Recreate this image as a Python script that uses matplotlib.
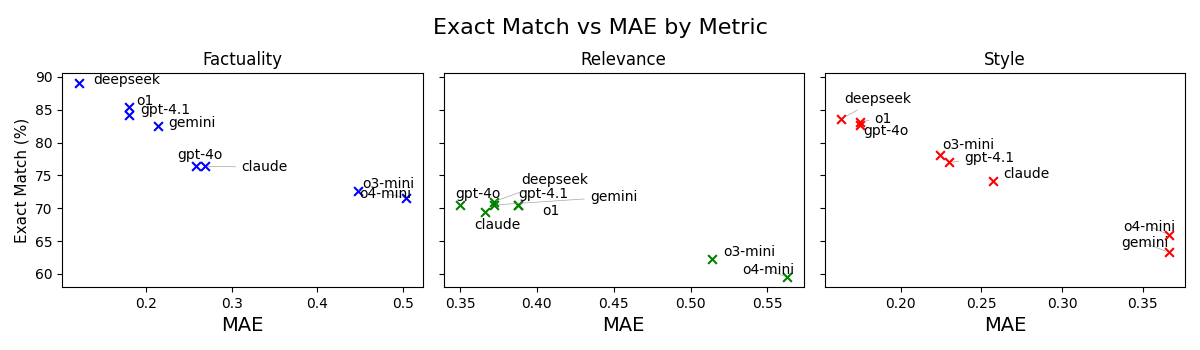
import matplotlib.pyplot as plt

models = ['gpt-4o', 'gpt-4.1', 'o1', 'o3-mini', 'o4-mini', 'claude', 'gemini', 'deepseek']

metrics = ['Factuality', 'Relevance', 'Style']
colors = ['blue', 'green', 'red']

fact_mae = [0.258, 0.180, 0.180, 0.448, 0.504, 0.269, 0.214, 0.121]
fact_em = [76.4, 84.2, 85.4, 72.7, 71.6, 76.4, 82.6, 89.1]

rel_mae = [0.350, 0.388, 0.388, 0.514, 0.563, 0.366, 0.372, 0.372]
rel_em = [70.5, 70.5, 70.5, 62.3, 59.5, 69.4, 70.5, 71.0]

sty_mae = [0.175, 0.230, 0.175, 0.224, 0.366, 0.257, 0.366, 0.163]
sty_em = [82.7, 77.0, 83.2, 78.1, 66.0, 74.2, 63.3, 83.6]

all_mae = [fact_mae, rel_mae, sty_mae]
all_em = [fact_em, rel_em, sty_em]

# label placement (pixel offsets from point, draw connector or not)
label_pos = [
    {'gpt-4o': (-19, 11, False), 'gpt-4.1': (11, 5, False), 'o1': (7, 6, False),
     'o3-mini': (4, 7, True), 'o4-mini': (-47, 4, True), 'claude': (36, -1, True),
     'gemini': (10, 3, False), 'deepseek': (14, 3, False)},
    {'gpt-4o': (-5, 11, True), 'gpt-4.1': (0, 11, False), 'o1': (24, -6, False),
     'o3-mini': (11, 7, False), 'o4-mini': (-45, 7, True), 'claude': (-10, -13, True),
     'gemini': (96, 8, True), 'deepseek': (27, 22, True)},
    {'gpt-4o': (3, -6, False), 'gpt-4.1': (15, 4, True), 'o1': (14, 3, True),
     'o3-mini': (3, 10, True), 'o4-mini': (-45, 8, True), 'claude': (10, 7, False),
     'gemini': (-47, 9, True), 'deepseek': (3, 20, True)},
]

fig, axes = plt.subplots(1, 3, figsize=(12, 3.5), dpi=100, sharey=True)

for i, ax in enumerate(axes):
    ax.scatter(all_mae[i], all_em[i], marker='x', color=colors[i], s=40)
    for j, m in enumerate(models):
        dx, dy, line = label_pos[i][m]
        props = dict(arrowstyle='-', color='gray', lw=0.5, alpha=0.7) if line else None
        ax.annotate(m, (all_mae[i][j], all_em[i][j]), xytext=(dx, dy),
                    textcoords='offset pixels', ha='left', va='center',
                    fontsize=10, arrowprops=props)
    ax.set_title(metrics[i], fontsize=12)
    ax.set_xlabel('MAE', fontsize=14)

axes[0].set_ylabel('Exact Match (%)', fontsize=11)
fig.suptitle('Exact Match vs MAE by Metric', fontsize=16, y=0.95)

plt.subplots_adjust(left=0.052, right=0.9875, top=0.791, bottom=0.18, wspace=0.058)
plt.savefig('out.png')
